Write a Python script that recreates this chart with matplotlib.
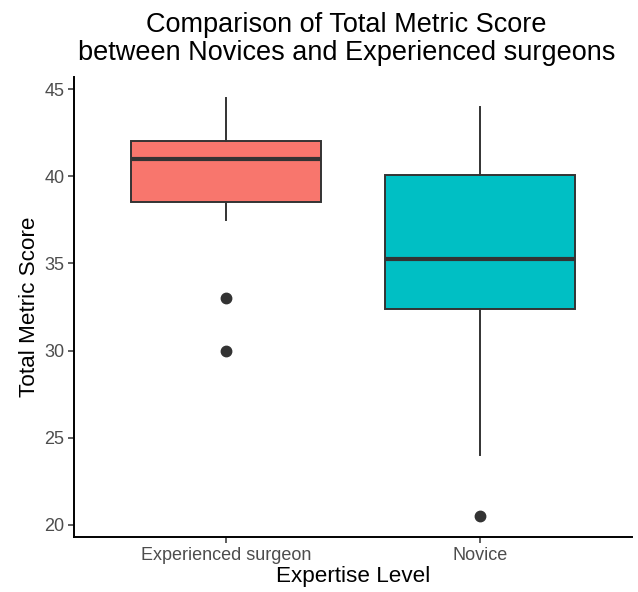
import matplotlib
matplotlib.use('Agg')
import matplotlib.pyplot as plt

# Box summary
groups = ["Experienced surgeon", "Novice"]
whisker_low = [37.5, 24.0]
q1 = [38.5, 32.4]
median = [41.0, 35.25]
q3 = [42.0, 40.1]
whisker_high = [44.5, 44.0]
outliers = [[33.0, 30.0], [20.5]]
fills = ["#F8766D", "#00BFC4"]

plt.rcParams['font.family'] = ['Liberation Sans', 'DejaVu Sans']

fig = plt.figure(figsize=(6.38, 5.92), dpi=100)
ax = fig.add_axes([0.116, 0.093, 0.875, 0.777])

stats = []
for i in range(len(groups)):
    stats.append({'label': groups[i], 'whislo': whisker_low[i], 'q1': q1[i],
                  'med': median[i], 'q3': q3[i], 'whishi': whisker_high[i],
                  'fliers': outliers[i]})

bp = ax.bxp(stats, positions=[1, 2], widths=0.75, patch_artist=True,
            showcaps=False,
            boxprops=dict(edgecolor='#333333', linewidth=1.4),
            medianprops=dict(color='#333333', linewidth=3),
            whiskerprops=dict(color='#333333', linewidth=1.4),
            flierprops=dict(marker='o', markerfacecolor='#333333',
                            markeredgecolor='#333333', markersize=7.5))
for patch, c in zip(bp['boxes'], fills):
    patch.set_facecolor(c)

ax.set_xlim(0.4, 2.6)
ax.set_ylim(19.3, 45.7)
ax.set_yticks([20, 25, 30, 35, 40, 45])
ax.set_xticks([1, 2])
ax.set_xticklabels(groups)

for s in ['top', 'right']:
    ax.spines[s].set_visible(False)
for s in ['left', 'bottom']:
    ax.spines[s].set_linewidth(1.4)
ax.tick_params(colors='#333333', labelcolor='#4D4D4D', labelsize=13,
               length=4, width=1.1, pad=3)

ax.set_xlabel("Expertise Level", fontsize=16.2, labelpad=2)
ax.set_ylabel("Total Metric Score", fontsize=16.2, labelpad=3)
ax.set_title("Comparison of Total Metric Score\nbetween Novices and Experienced surgeons",
             fontsize=19.5, pad=12, x=0.488, linespacing=1.12)

fig.savefig('out.png')
